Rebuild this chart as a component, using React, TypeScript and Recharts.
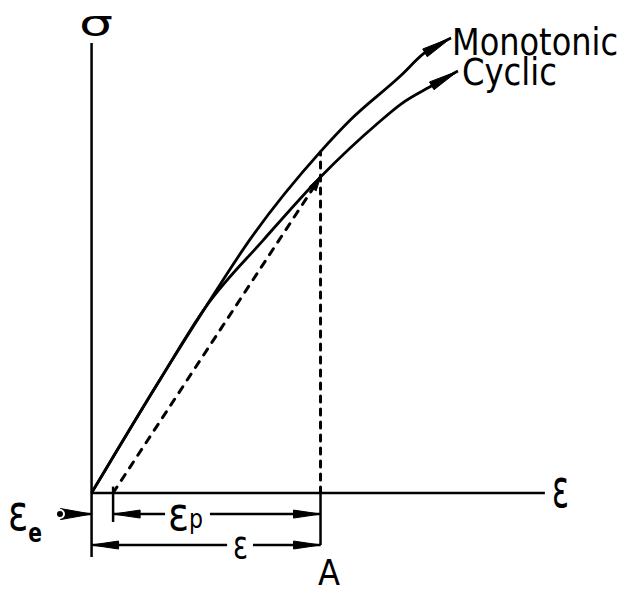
import { LineChart, Line, XAxis, YAxis, ReferenceLine } from 'recharts'

// ── Data ────────────────────────────────────────────────
// strain in units of the total strain at A, stress in units of the cyclic stress at A
const monotonicStrain = [0, 0.3, 0.5, 0.69, 1.0, 1.13, 1.35, 1.45, 1.57]
const monotonicStress = [0, 0.36, 0.59, 0.8, 1.08, 1.18, 1.32, 1.39, 1.44]
const cyclicStrain = [0, 0.3, 0.5, 0.75, 1.0, 1.25, 1.35, 1.49, 1.6]
const cyclicStress = [0, 0.36, 0.59, 0.8, 1.0, 1.17, 1.23, 1.29, 1.335]

const totalStrainA = 1.0 // point A
const elasticStrainA = 0.094 // recovered on unloading
const cyclicStressA = 1.0
const monotonicStressA = 1.08

// ── Layout ──────────────────────────────────────────────
const W = 625
const H = 594
const X_DOMAIN: [number, number] = [-0.4, 2.33]
const Y_DOMAIN: [number, number] = [-0.32, 1.56]
const AXIS_TOP = 1.424
const AXIS_BOTTOM = -0.203
const AXIS_RIGHT = 1.98
const ROW_EP = -0.067 // ε_p dimension row
const ROW_E = -0.165 // ε dimension row
const EP_GAP: [number, number] = [0.321, 0.517]
const E_GAP: [number, number] = [0.592, 0.705]
const EE_TAIL = -0.138
const INK = '#000'
const FONT = "'DejaVu Sans Condensed', 'Liberation Sans Narrow', 'DejaVu Sans', sans-serif"

const zip = (xs: number[], ys: number[]) => xs.map((x, i) => ({ x, y: ys[i] }))
const monotonicData = zip(monotonicStrain, monotonicStress)
const cyclicData = zip(cyclicStrain, cyclicStress)

const plasticStart = elasticStrainA
const unloadData = [
  { x: plasticStart, y: 0 },
  { x: totalStrainA, y: cyclicStressA },
]
const epLeft = [{ x: EP_GAP[0], y: ROW_EP }, { x: plasticStart, y: ROW_EP }]
const epRight = [{ x: EP_GAP[1], y: ROW_EP }, { x: totalStrainA, y: ROW_EP }]
const eLeft = [{ x: E_GAP[0], y: ROW_E }, { x: 0, y: ROW_E }]
const eRight = [{ x: E_GAP[1], y: ROW_E }, { x: totalStrainA, y: ROW_E }]
const eeArrow = [{ x: EE_TAIL, y: ROW_EP }, { x: 0, y: ROW_EP }]
const epTick = [{ x: plasticStart, y: 0.02 }, { x: plasticStart, y: -0.092 }]
const aBracket = [{ x: totalStrainA, y: 0 }, { x: totalStrainA, y: ROW_E }]
const aDrop = [{ x: totalStrainA, y: 0 }, { x: totalStrainA, y: monotonicStressA }]

// filled arrowhead drawn on the first or last point of a line
function arrowHead(at: 'start' | 'end', len: number, half: number) {
  return (props: any) => {
    const { cx, cy, index, points } = props
    const last = points.length - 1
    if ((at === 'end' && index !== last) || (at === 'start' && index !== 0)) {
      return <g key={`n-${index}`} />
    }
    const from = at === 'end' ? points[last - 1] : points[1]
    const dx = cx - from.x
    const dy = cy - from.y
    const d = Math.hypot(dx, dy) || 1
    const ux = dx / d
    const uy = dy / d
    const bx = cx - ux * len
    const by = cy - uy * len
    const pts = `${cx},${cy} ${bx - uy * half},${by + ux * half} ${bx + uy * half},${by - ux * half}`
    return (
      <polygon
        key={`a-${index}`}
        points={pts}
        fill={INK}
        stroke={INK}
        strokeWidth={1}
        strokeLinejoin="round"
      />
    )
  }
}

const dimArrow = arrowHead('end', 27, 4)

export default function App() {
  return (
    <div style={{ position: 'absolute', left: 0, top: 0, width: W, height: H, background: '#fff' }}>
      <LineChart width={W} height={H} margin={{ top: 0, right: 0, bottom: 0, left: 0 }}>
        <XAxis type="number" dataKey="x" domain={X_DOMAIN} allowDataOverflow hide />
        <YAxis type="number" domain={Y_DOMAIN} allowDataOverflow hide />

        {/* σ and ε axes */}
        <ReferenceLine
          segment={[{ x: 0, y: AXIS_BOTTOM }, { x: 0, y: AXIS_TOP }]}
          stroke={INK}
          strokeWidth={2.5}
          ifOverflow="visible"
        />
        <ReferenceLine
          segment={[{ x: 0, y: 0 }, { x: AXIS_RIGHT, y: 0 }]}
          stroke={INK}
          strokeWidth={2.5}
          ifOverflow="visible"
        />

        {/* elastic unloading from A and the drop to the strain axis */}
        <Line
          data={unloadData}
          dataKey="y"
          type="linear"
          stroke={INK}
          strokeWidth={3}
          strokeDasharray="7 8"
          strokeLinecap="round"
          dot={arrowHead('end', 14, 4)}
          isAnimationActive={false}
        />
        <Line
          data={aDrop}
          dataKey="y"
          type="linear"
          stroke={INK}
          strokeWidth={3}
          strokeDasharray="6 7"
          strokeLinecap="round"
          dot={false}
          isAnimationActive={false}
        />

        {/* stress-strain curves */}
        <Line
          data={monotonicData}
          dataKey="y"
          type="monotone"
          stroke={INK}
          strokeWidth={2.8}
          dot={arrowHead('end', 30, 4.5)}
          isAnimationActive={false}
        />
        <Line
          data={cyclicData}
          dataKey="y"
          type="monotone"
          stroke={INK}
          strokeWidth={2.8}
          dot={arrowHead('end', 30, 4.5)}
          isAnimationActive={false}
        />

        {/* strain dimensions */}
        {[epTick, aBracket].map((d, i) => (
          <Line
            key={`t${i}`}
            data={d}
            dataKey="y"
            type="linear"
            stroke={INK}
            strokeWidth={2.5}
            dot={false}
            isAnimationActive={false}
          />
        ))}
        {[epLeft, epRight, eLeft, eRight].map((d, i) => (
          <Line
            key={`d${i}`}
            data={d}
            dataKey="y"
            type="linear"
            stroke={INK}
            strokeWidth={2.5}
            dot={dimArrow}
            isAnimationActive={false}
          />
        ))}
        <Line
          data={eeArrow}
          dataKey="y"
          type="linear"
          stroke={INK}
          strokeWidth={2.5}
          dot={arrowHead('end', 31, 5.5)}
          isAnimationActive={false}
        />
      </LineChart>

      <svg
        width={W}
        height={H}
        style={{ position: 'absolute', left: 0, top: 0, pointerEvents: 'none' }}
        fontFamily={FONT}
        fill={INK}
      >
        <g transform="translate(79,36) scale(1,1.15)">
          <text x={0} y={0} fontSize={31} textLength={34} lengthAdjust="spacingAndGlyphs">σ</text>
        </g>
        <g transform="translate(452,55) scale(1,1.15)">
          <text x={0} y={0} fontSize={33} textLength={166} lengthAdjust="spacingAndGlyphs">Monotonic</text>
        </g>
        <g transform="translate(462,85) scale(1,1.12)">
          <text x={0} y={0} fontSize={34} textLength={95} lengthAdjust="spacingAndGlyphs">Cyclic</text>
        </g>
        <text x={552} y={507} fontSize={54} textLength={17} lengthAdjust="spacingAndGlyphs">ε</text>
        <text x={8} y={530} textLength={34} lengthAdjust="spacingAndGlyphs">
          <tspan fontSize={50}>ε</tspan>
          <tspan fontSize={27} fontWeight="bold" dy={12}>e</tspan>
        </text>
        <text x={168} y={530} textLength={35} lengthAdjust="spacingAndGlyphs">
          <tspan fontSize={46}>ε</tspan>
          <tspan fontSize={26} dy={-2}>p</tspan>
        </text>
        <text x={233} y={558} fontSize={38} textLength={15} lengthAdjust="spacingAndGlyphs">ε</text>
        <text x={318} y={585} fontSize={36} textLength={22} lengthAdjust="spacingAndGlyphs">A</text>
      </svg>
    </div>
  )
}
